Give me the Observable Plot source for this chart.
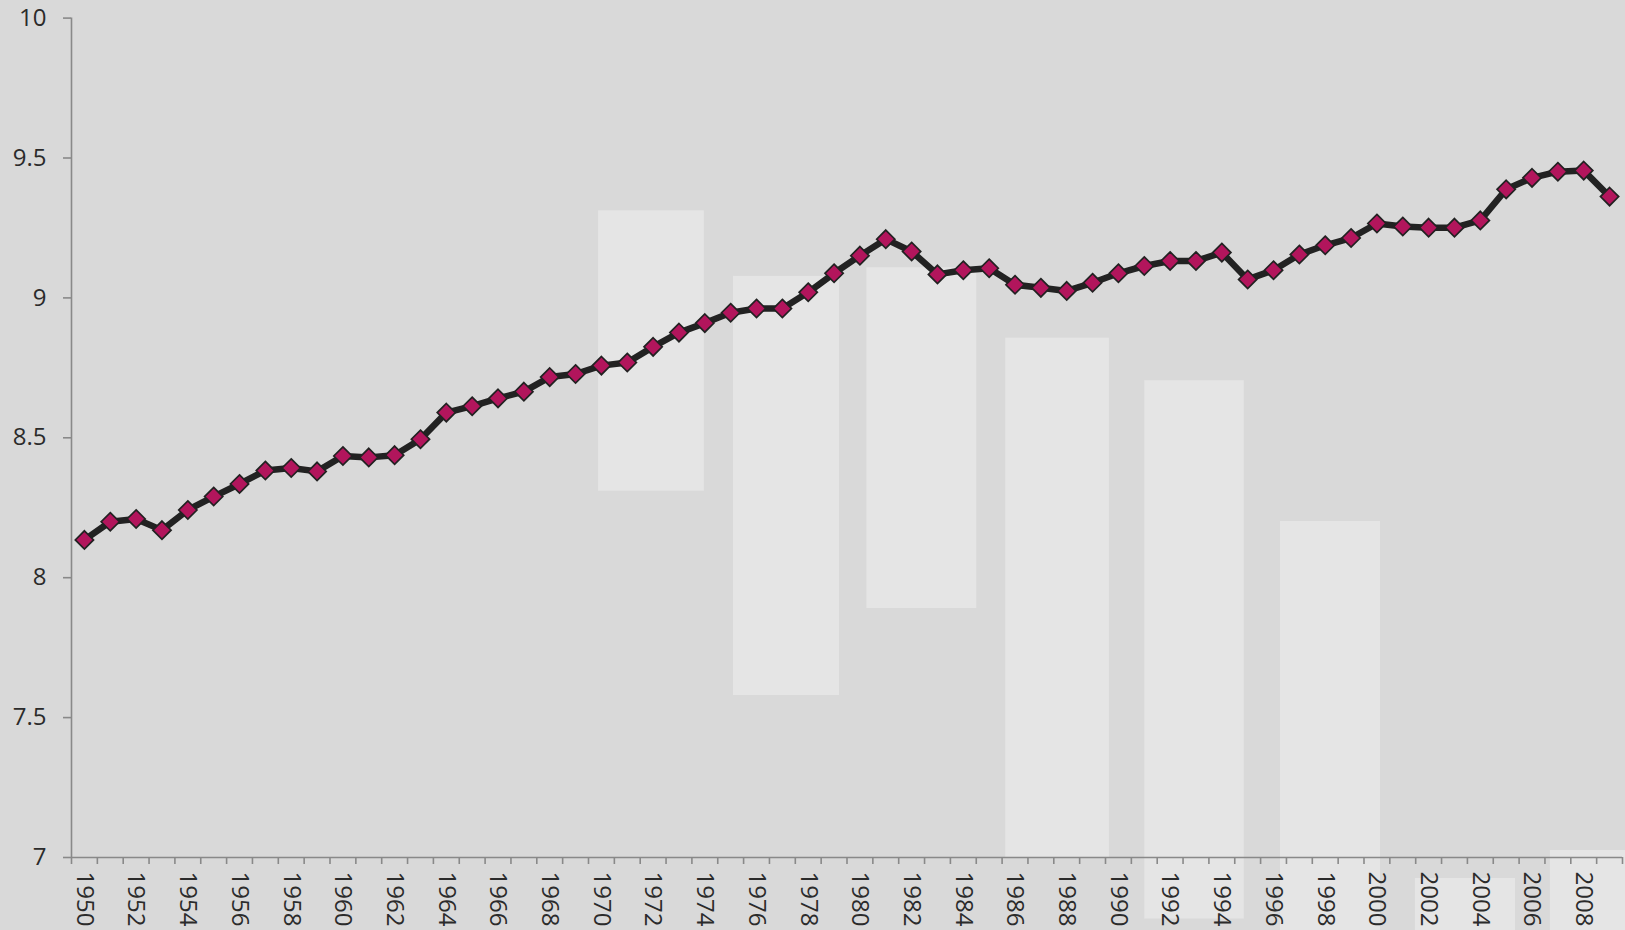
<!DOCTYPE html>
<html>
<head>
<meta charset="utf-8">
<script src="https://cdn.jsdelivr.net/npm/d3@7"></script>
<script src="https://cdn.jsdelivr.net/npm/@observablehq/plot@0.6"></script>
<style>
  html, body { margin: 0; padding: 0; background: #d9d9d9; overflow: hidden; }
</style>
</head>
<body>
<div id="chart"></div>
<script>
// ---- data ----
const years = [1950,1951,1952,1953,1954,1955,1956,1957,1958,1959,
               1960,1961,1962,1963,1964,1965,1966,1967,1968,1969,
               1970,1971,1972,1973,1974,1975,1976,1977,1978,1979,
               1980,1981,1982,1983,1984,1985,1986,1987,1988,1989,
               1990,1991,1992,1993,1994,1995,1996,1997,1998,1999,
               2000,2001,2002,2003,2004,2005,2006,2007,2008,2009];
const values = [8.135,8.200,8.210,8.170,8.242,8.290,8.335,8.383,8.392,8.380,
                8.435,8.430,8.438,8.495,8.590,8.613,8.641,8.665,8.717,8.728,
                8.758,8.769,8.825,8.876,8.910,8.947,8.962,8.962,9.020,9.088,
                9.151,9.210,9.166,9.084,9.099,9.106,9.047,9.036,9.025,9.054,
                9.088,9.114,9.132,9.132,9.162,9.066,9.099,9.155,9.188,9.214,
                9.266,9.255,9.251,9.251,9.277,9.388,9.429,9.451,9.455,9.362];
const xLabels = [1950,1952,1954,1956,1958,1960,1962,1964,1966,1968,1970,1972,1974,1976,1978,
                 1980,1982,1984,1986,1988,1990,1992,1994,1996,1998,2000,2002,2004,2006,2008];
const yTicks = [7, 7.5, 8, 8.5, 9, 9.5, 10];

// light background panels (in year / value units)
const shadeStart  = [1969.89, 1975.11, 1980.27, 1985.64, 1991.02, 1996.27, 2001.49, 2006.71];
const shadeEnd    = [1973.98, 1979.21, 1984.52, 1989.65, 1994.87, 2000.14, 2005.36, 2009.62];
const shadeTop    = [9.311, 9.077, 9.108, 8.856, 8.704, 8.201, 6.925, 7.025];
const shadeBottom = [8.309, 7.579, 7.890, 7.000, 6.780, 6.600, 6.600, 6.600];

// ---- tables built from arrays ----
const series = years.map((y, i) => ({year: y, value: values[i]}));
const shades = shadeStart.map((s, i) => ({x1: s, x2: shadeEnd[i], y1: shadeBottom[i], y2: shadeTop[i]}));
const boundaries = d3.range(years[0] - 0.5, years[years.length - 1] + 1, 1);

const chart = Plot.plot({
  width: 1625,
  height: 930,
  marginLeft: 71,
  marginRight: 3,
  marginTop: 17.6,
  marginBottom: 73,
  style: {background: "#d9d9d9", fontFamily: "'Open Sans', sans-serif", fontSize: "24px", color: "#333", overflow: "visible"},
  x: {domain: [years[0] - 0.5, years[years.length - 1] + 0.5]},
  y: {domain: [7, 10]},
  marks: [
    Plot.rect(shades, {x1: "x1", x2: "x2", y1: "y1", y2: "y2", fill: "#e5e5e5"}),
    // y axis
    Plot.ruleX([years[0] - 0.5], {y1: 7, y2: 10, stroke: "#898989", strokeWidth: 1.6}),
    Plot.axisY({ticks: yTicks, tickSize: 8, tickPadding: 17, tickFormat: d => String(d),
                stroke: "#898989", strokeWidth: 1.6, fill: "#2b2b2b", label: null}),
    // x axis
    Plot.ruleY([7], {stroke: "#898989", strokeWidth: 1.6}),
    Plot.axisX({ticks: boundaries, tickSize: 7, tickFormat: () => "", stroke: "#898989", strokeWidth: 1.6, label: null}),
    Plot.axisX({ticks: xLabels, tickSize: 0, tickPadding: 14, tickRotate: 90, tickFormat: d => String(d),
                fill: "#2b2b2b", label: null}),
    // series
    Plot.line(series, {x: "year", y: "value", stroke: "#222", strokeWidth: 6.5, strokeLinejoin: "round"}),
    Plot.dot(series, {x: "year", y: "value", symbol: "diamond2", r: 8.2, fill: "#b2155c", stroke: "#222", strokeWidth: 1.7})
  ]
});
document.getElementById("chart").appendChild(chart);
</script>
</body>
</html>
